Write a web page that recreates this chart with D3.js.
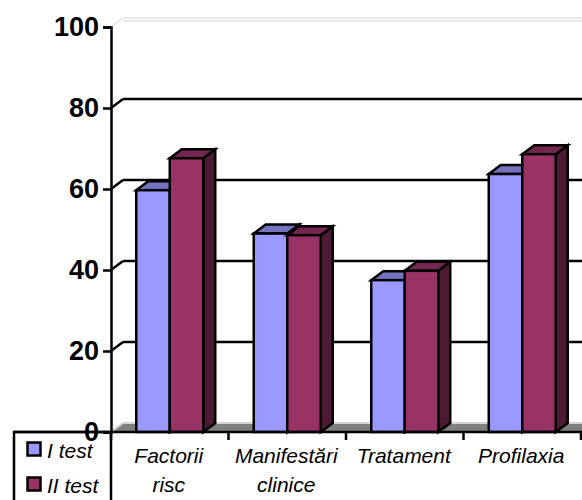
<!DOCTYPE html>
<html lang="en">
<head>
    <meta charset="UTF-8">
    <title>Teste</title>
    <script src="https://d3js.org/d3.v7.min.js"></script>
    <style>
        body { margin: 0; background: #fff; }
        svg { display: block; font-family: "Liberation Sans", Arial, sans-serif; }
        .tick-label { font-size: 27px; font-weight: bold; }
        .cat-label, .legend-label { font-size: 21px; font-style: italic; }
    </style>
</head>
<body>
    <svg width="582" height="500"></svg>
    <script>
        // Values
        const categories = [["Factorii", "risc"], ["Manifestări", "clinice"], ["Tratament"], ["Profilaxia"]];
        const seriesNames = ["I test", "II test"];
        const test1 = [59.7, 49, 37.5, 63.7];
        const test2 = [67.6, 48.6, 39.8, 68.6];
        const yTicks = [0, 20, 40, 60, 80, 100];

        const colors = ["#9999ff", "#993366"];
        const topColors = ["#7373bf", "#732650"];
        const sideColors = ["#4d4d80", "#4d1a33"];

        const svg = d3.select("svg");
        const dx = 12, dy = -9; // 3d depth

        const y = d3.scaleLinear().domain([0, 100]).range([432, 27]);
        const x = d3.scaleBand().domain(d3.range(categories.length)).range([111, 581]);
        const x1 = d3.scaleBand().domain([0, 1]).range([0, x.bandwidth()]).paddingInner(0).paddingOuter(0.754);

        const left = x.range()[0], right = 582;

        // floor
        svg.append("polygon")
            .attr("points", [[left, y(0)], [left + dx, y(0) + dy], [right, y(0) + dy], [right, y(0)]].join(" "))
            .attr("fill", "#808080");
        svg.append("line")
            .attr("x1", left + dx).attr("x2", right)
            .attr("y1", y(0) + dy).attr("y2", y(0) + dy)
            .attr("stroke", "#d4d4d4").attr("stroke-width", 2);
        svg.append("line")
            .attr("x1", left).attr("y1", y(0))
            .attr("x2", left + dx).attr("y2", y(0) + dy)
            .attr("stroke", "#d4d4d4").attr("stroke-width", 2);

        // top edge of the back wall
        [0, 3].forEach(off => {
            svg.append("line")
                .attr("x1", left + dx).attr("x2", right)
                .attr("y1", y(100) + dy + off).attr("y2", y(100) + dy + off)
                .attr("stroke", "#d4d4d4").attr("stroke-width", 1);
        });
        svg.append("line")
            .attr("x1", left).attr("y1", y(100))
            .attr("x2", left + dx).attr("y2", y(100) + dy)
            .attr("stroke", "#d4d4d4").attr("stroke-width", 1);

        // gridlines on back wall with the slanted bit at the wall side
        const grid = [20, 40, 60, 80];
        svg.append("g").selectAll("line.grid")
            .data(grid).enter().append("line")
            .attr("x1", left + dx).attr("x2", right)
            .attr("y1", d => y(d) + dy).attr("y2", d => y(d) + dy)
            .attr("stroke", "#000").attr("stroke-width", 2.5);
        svg.append("g").selectAll("line")
            .data(grid).enter().append("line")
            .attr("x1", left).attr("x2", left + dx)
            .attr("y1", d => y(d)).attr("y2", d => y(d) + dy)
            .attr("stroke", "#000").attr("stroke-width", 2.5);

        // bars
        const bars = svg.append("g");
        categories.forEach((c, i) => {
            [test1[i], test2[i]].forEach((v, s) => {
                const bx = x(i) + x1(s), bw = x1.bandwidth(), by = y(v), b0 = y(0);
                const g = bars.append("g")
                    .attr("stroke", "#000").attr("stroke-width", 2.5).attr("stroke-linejoin", "miter");
                g.append("polygon")
                    .attr("points", [[bx + bw, by], [bx + bw + dx, by + dy], [bx + bw + dx, b0 + dy], [bx + bw, b0]].join(" "))
                    .attr("fill", sideColors[s]);
                g.append("polygon")
                    .attr("points", [[bx, by], [bx + dx, by + dy], [bx + bw + dx, by + dy], [bx + bw, by]].join(" "))
                    .attr("fill", topColors[s]);
                g.append("rect")
                    .attr("x", bx).attr("y", by)
                    .attr("width", bw).attr("height", b0 - by)
                    .attr("fill", colors[s]);
            });
        });

        // x axis line and ticks
        const xAxisLine = svg.append("g").attr("stroke", "#000").attr("stroke-width", 2.5);
        xAxisLine.append("line").attr("x1", 14).attr("x2", right).attr("y1", y(0)).attr("y2", y(0));
        xAxisLine.selectAll("line.t")
            .data(d3.range(categories.length + 1)).enter().append("line")
            .attr("class", "t")
            .attr("x1", d => x.range()[0] + d * x.step()).attr("x2", d => x.range()[0] + d * x.step())
            .attr("y1", y(0)).attr("y2", y(0) + 8);

        // y axis
        const yAxis = svg.append("g")
            .attr("transform", `translate(${left},0)`)
            .call(d3.axisLeft(y).tickValues(yTicks).tickSize(8).tickPadding(4));
        yAxis.select(".domain").attr("stroke-width", 2.5).attr("stroke", "#000");
        yAxis.selectAll(".tick line").attr("stroke", "#000").attr("stroke-width", 2.5);
        yAxis.selectAll(".tick text")
            .attr("class", "tick-label")
            .attr("font-size", null).attr("font-family", null)
            .attr("fill", "#000");

        // category labels
        const labels = svg.append("g").attr("text-anchor", "middle").attr("fill", "#000");
        categories.forEach((lines, i) => {
            lines.forEach((t, k) => {
                labels.append("text")
                    .attr("class", "cat-label")
                    .attr("x", x(i) + x.bandwidth() / 2 - 1)
                    .attr("y", 463 + k * 29)
                    .text(t);
            });
        });

        // legend box, open at the bottom of the window
        const legend = svg.append("g");
        legend.append("path")
            .attr("d", `M14,503 V${y(0)} H${left} V503`)
            .attr("fill", "none").attr("stroke", "#000").attr("stroke-width", 2.5);
        seriesNames.forEach((n, s) => {
            const ly = 442.5 + s * 35;
            legend.append("rect")
                .attr("x", 27.5).attr("y", ly).attr("width", 13).attr("height", 13)
                .attr("fill", colors[s]).attr("stroke", "#000").attr("stroke-width", 2.5);
            legend.append("text")
                .attr("class", "legend-label")
                .attr("x", 47).attr("y", ly + 15)
                .text(n);
        });
    </script>
</body>
</html>
